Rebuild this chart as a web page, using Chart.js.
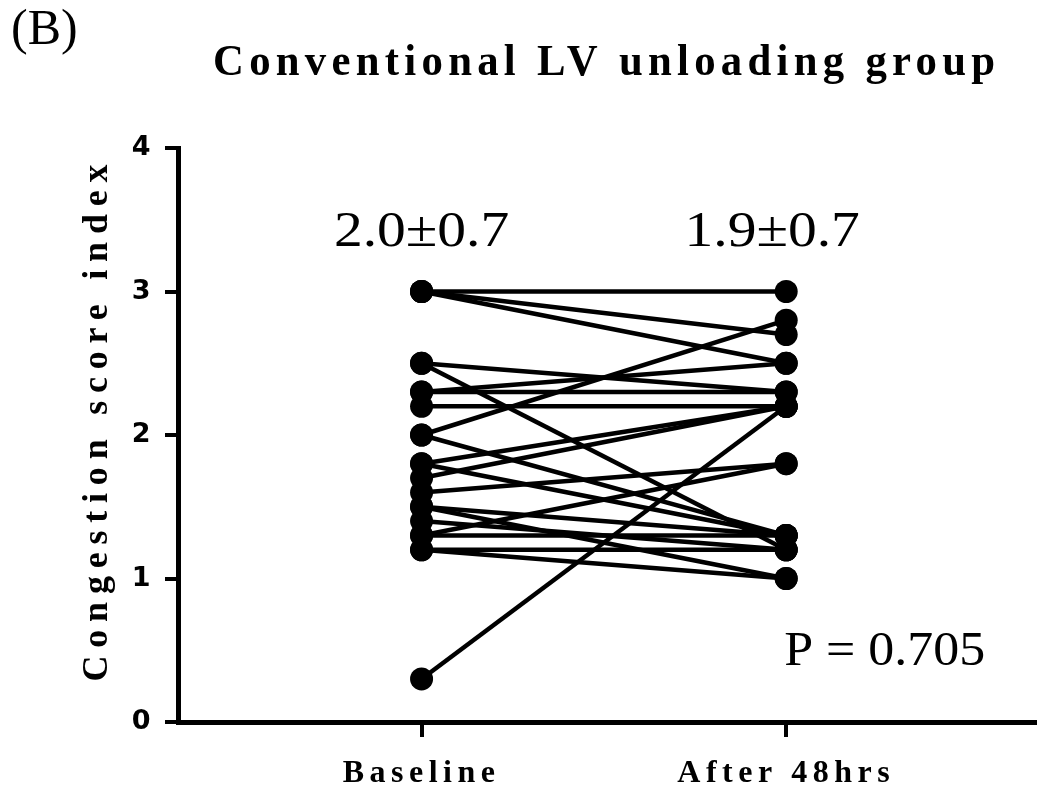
<!DOCTYPE html>
<html>
<head>
<meta charset="utf-8">
<script src="https://cdn.jsdelivr.net/npm/chart.js@4"></script>
<style>
  html, body { margin: 0; padding: 0; background: #ffffff; }
  #wrap { width: 1046px; height: 790px; }
</style>
</head>
<body>
<div id="wrap"><canvas id="c" width="1046" height="790"></canvas></div>
<script>
// ---- data ----
const categories = ['Baseline', 'After 48hrs'];
const baselineScores = [3.0, 3.0, 3.0, 2.5, 2.5, 2.3, 2.3, 2.2, 2.0, 2.0, 1.8, 1.8, 1.7, 1.6, 1.5, 1.5, 1.4, 1.3, 1.3, 1.2, 1.2, 0.3];
const after48Scores  = [3.0, 2.7, 2.5, 2.3, 1.2, 2.5, 2.3, 2.2, 2.8, 1.3, 2.2, 1.3, 2.2, 1.8, 1.0, 1.3, 1.2, 1.3, 1.8, 1.0, 1.2, 2.2];
const yTickValues = [0, 1, 2, 3, 4];
const summaryLabels = ['2.0\u00B10.7', '1.9\u00B10.7'];
const pValueLabel = 'P = 0.705';
const panelLabel = '(B)';
const chartTitle = 'Conventional LV unloading group';
const yAxisTitle = 'Congestion score index';

const datasets = baselineScores.map((b, i) => ({
  label: 'Patient ' + (i + 1),
  data: [{ x: 0, y: b }, { x: 1, y: after48Scores[i] }],
  borderColor: '#000',
  backgroundColor: '#000',
  borderWidth: 4.5,
  pointRadius: 11.5,
  pointBorderWidth: 0,
  pointBackgroundColor: '#000',
  showLine: true,
  tension: 0,
  clip: false
}));

function drawFitted(ctx, text, cx, cy, target, font, sx, angle) {
  ctx.save();
  ctx.translate(cx, cy);
  ctx.rotate(angle || 0);
  ctx.scale(sx, 1);
  ctx.font = font;
  ctx.letterSpacing = '0px';
  const w = ctx.measureText(text).width;
  const ls = (target / sx - w) / (text.length - 1);
  ctx.letterSpacing = ls + 'px';
  ctx.textAlign = 'left';
  ctx.textBaseline = 'alphabetic';
  ctx.fillStyle = '#000';
  ctx.fillText(text, -target / sx / 2, 0);
  ctx.restore();
}

function drawScaled(ctx, text, x, y, font, sx, align) {
  ctx.save();
  ctx.translate(x, y);
  ctx.scale(sx, 1);
  ctx.font = font;
  ctx.letterSpacing = '0px';
  ctx.fillStyle = '#000';
  ctx.textAlign = align;
  ctx.textBaseline = 'alphabetic';
  ctx.fillText(text, 0, 0);
  ctx.restore();
}

const textPlugin = {
  id: 'texts',
  beforeDraw(chart) {
    // spaced lettering used by the axis labels of the original figure
    chart.ctx.letterSpacing = '5.5px';
  },
  beforeDatasetsDraw(chart) {
    chart.ctx.letterSpacing = '0px';
  },
  afterDraw(chart) {
    const ctx = chart.ctx;
    const xs = chart.scales.x, ys = chart.scales.y;
    drawScaled(ctx, panelLabel, 11, 44, '50px "Liberation Serif"', 1.0, 'left');
    drawFitted(ctx, chartTitle, 604, 75, 782, 'bold 45px "Liberation Serif"', 0.95, 0);
    drawFitted(ctx, yAxisTitle, 107, 423, 517, 'bold 36px "Liberation Serif"', 1, -Math.PI / 2);
    const yLab = ys.getPixelForValue(3.32);
    drawScaled(ctx, summaryLabels[0], xs.getPixelForValue(0), yLab, '50px "Liberation Serif"', 1.15, 'center');
    drawScaled(ctx, summaryLabels[1], xs.getPixelForValue(1) - 14, yLab, '50px "Liberation Serif"', 1.15, 'center');
    drawScaled(ctx, pValueLabel, xs.getPixelForValue(1) + 199, ys.getPixelForValue(0.4), '49px "Liberation Serif"', 1.06, 'right');
  }
};

new Chart(document.getElementById('c'), {
  type: 'line',
  data: { datasets },
  plugins: [textPlugin],
  options: {
    responsive: false,
    animation: false,
    devicePixelRatio: 1,
    layout: { padding: { top: 148, left: 0, right: 6, bottom: 0 } },
    plugins: { legend: { display: false }, title: { display: false }, tooltip: { enabled: false } },
    scales: {
      x: {
        type: 'linear',
        min: -0.668,
        max: 1.681,
        afterBuildTicks(scale) { scale.ticks = categories.map((c, i) => ({ value: i })); },
        afterFit(scale) { scale.height = 68; },
        ticks: {
          autoSkip: false,
          maxRotation: 0,
          minRotation: 0,
          padding: 18,
          color: '#000',
          font: { family: '"Liberation Serif", "Times New Roman", serif', size: 32, weight: 'bold' },
          callback: (v) => categories[v]
        },
        grid: { display: true, drawOnChartArea: false, drawTicks: true, tickLength: 15, lineWidth: 4, color: '#000' },
        border: { display: true, width: 5, color: '#000' }
      },
      y: {
        min: 0,
        max: 4,
        afterBuildTicks(scale) { scale.ticks = yTickValues.map(v => ({ value: v })); },
        afterFit(scale) { scale.width = 178; },
        ticks: {
          color: '#000',
          padding: 9,
          font: { family: '"DejaVu Sans", "Liberation Sans", sans-serif', size: 27, weight: 'bold' }
        },
        grid: { display: true, drawOnChartArea: false, drawTicks: true, tickLength: 13, lineWidth: 4, color: '#000' },
        border: { display: true, width: 5, color: '#000' }
      }
    }
  }
});
</script>
</body>
</html>
